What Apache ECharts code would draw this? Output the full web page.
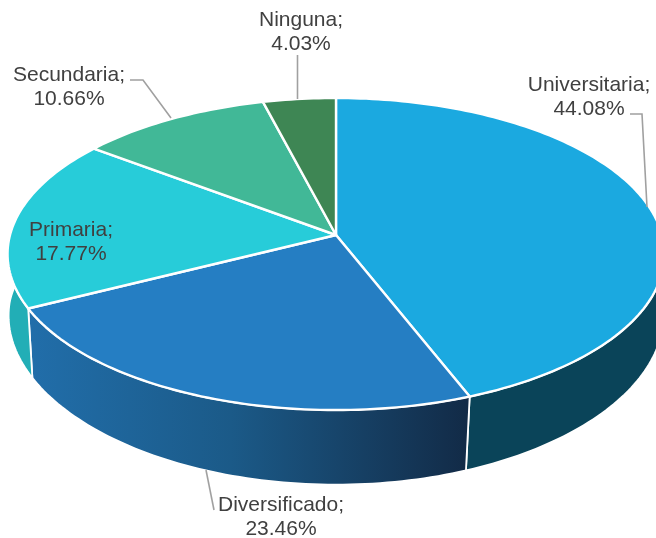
<!DOCTYPE html>
<html><head><meta charset="utf-8">
<style>html,body{margin:0;padding:0;background:#fff}#c{width:656px;height:538px}</style>
<script src="https://cdn.jsdelivr.net/npm/echarts@6/dist/echarts.min.js"></script>
</head><body><div id="c"></div>
<script>
const categories = ['Universitaria','Diversificado','Primaria','Secundaria','Ninguna'];
const shares = [44.08,23.46,17.77,10.66,4.03];

const topColors = ['#1BA9E0','#257EC3','#27CCD9','#41B897','#3E8654'];
const sideColors = ['#0A4459',
  {type:'linear',x:0,y:0,x2:1,y2:0,colorStops:[{offset:0,color:'#216EAA'},{offset:0.46,color:'#1B5A88'},{offset:1,color:'#122A46'}]},
  '#22AEB6','#2E8B72','#2C6A40'];
const labelCentres = [[589,97],[281,517],[71,242],[69,87],[301,32]];
const leaders = [
  [[630,114],[642,114],[647,207]],
  [[206,470],[214,510]],
  [],
  [[130,80],[143,80],[171,118]],
  [[297.5,55],[297.5,99]]
];

const CX=336, CY=235, BX=326, AY=153.7, K=0.122, DEPTH=65.5, LOWX=0.03;
const total = shares.reduce((a,b)=>a+b,0);
function startOf(i){let s=0;for(let j=0;j<i;j++)s+=shares[j];return s;}
function project(frac,lower){
  const t=frac/total*2*Math.PI, u=Math.sin(t), v=-Math.cos(t), d=1-K*v;
  let x=CX+BX*u/d, y=CY+AY*v/d;
  if(lower){x=CX+(x-CX)*(1-LOWX*Math.max(v,0)); y+=DEPTH/d;}
  return [x,y];
}
function arc(a,b,lower){
  const n=Math.max(8,Math.ceil((b-a)*3)), p=[];
  for(let i=0;i<=n;i++)p.push(project(a+(b-a)*i/n,lower));
  return p;
}
const data = categories.map((c,i)=>({name:c,value:shares[i]}));

const option = {
  animation:false,
  backgroundColor:'#fff',
  series:[
    {type:'custom',coordinateSystem:'none',silent:true,z:1,data,
     renderItem(params,api){
       const i=params.dataIndex,a=startOf(i),b=a+api.value(0);
       const pts=arc(a,b,false).concat(arc(a,b,true).reverse());
       return {type:'polygon',shape:{points:pts},style:{fill:sideColors[i],stroke:'#fff',lineWidth:1.8,lineJoin:'round'}};
     }},
    {type:'custom',coordinateSystem:'none',silent:true,z:2,data,
     renderItem(params,api){
       const i=params.dataIndex,a=startOf(i),b=a+api.value(0);
       const pts=[[CX,CY]].concat(arc(a,b,false));
       return {type:'polygon',shape:{points:pts},style:{fill:topColors[i],stroke:'#fff',lineWidth:2.4,lineJoin:'round'}};
     }},
    {type:'custom',coordinateSystem:'none',silent:true,z:3,data,
     renderItem(params,api){
       const i=params.dataIndex, c=labelCentres[i], kids=[];
       if(leaders[i].length)kids.push({type:'polyline',shape:{points:leaders[i]},style:{fill:'none',stroke:'#A0A0A0',lineWidth:1.6}});
       kids.push({type:'text',style:{text:categories[i]+';\n'+api.value(0).toFixed(2)+'%',x:c[0],y:c[1],align:'center',verticalAlign:'middle',
         fontFamily:'Liberation Sans',fontSize:21,lineHeight:24,fill:'#404040'}});
       return {type:'group',children:kids};
     }}
  ]
};
echarts.init(document.getElementById('c'),null,{renderer:'canvas'}).setOption(option);
</script></body></html>
